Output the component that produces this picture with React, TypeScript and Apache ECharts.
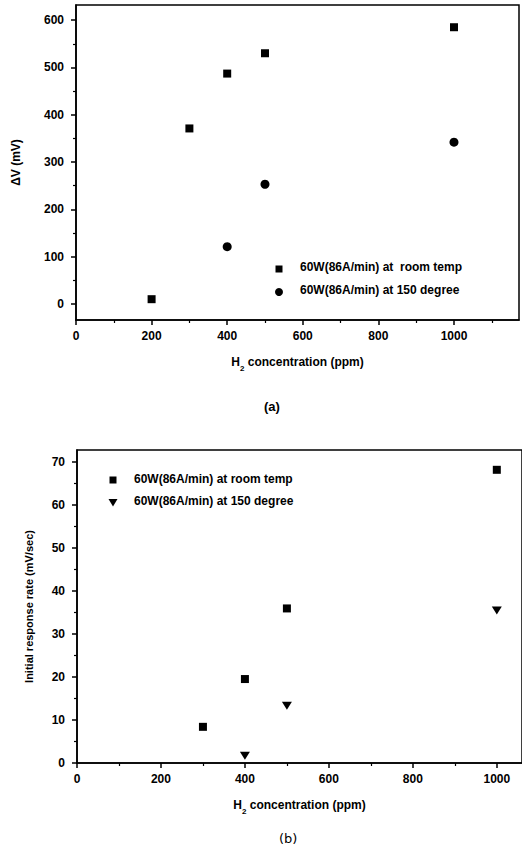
import React, { useEffect, useRef } from "react";
import * as echarts from "echarts";

// Panel (a): ΔV (mV) vs H2 concentration (ppm)
const roomTempConcA = [200, 300, 400, 500, 1000];
const roomTempDeltaV = [10, 371, 487, 530, 585];
const hotConcA = [400, 500, 1000];
const hotDeltaV = [121, 253, 342];

// Panel (b): initial response rate (mV/sec)
const roomTempConcB = [300, 400, 500, 1000];
const roomTempRate = [8.4, 19.5, 35.9, 68.1];
const hotConcB = [400, 500, 1000];
const hotRate = [1.7, 13.3, 35.4];

// Tick labels
const xMajorTicks = [0, 200, 400, 600, 800, 1000];
const xMinorTicksA = [100, 300, 500, 700, 900, 1100];
const xMinorTicksB = [100, 300, 500, 700, 900];
const yMajorTicksA = [0, 100, 200, 300, 400, 500, 600];
const yMinorTicksA = [50, 150, 250, 350, 450, 550];
const yMajorTicksB = [0, 10, 20, 30, 40, 50, 60, 70];
const yMinorTicksB = [5, 15, 25, 35, 45, 55, 65];

const legendA = ["60W(86A/min) at  room temp", "60W(86A/min) at 150 degree"];
const legendB = ["60W(86A/min) at room temp", "60W(86A/min) at 150 degree"];

const FONT = "'Liberation Sans', Arial, sans-serif";
const INK = "#000";

const nameRich = {
  b: { fontFamily: FONT, fontWeight: "bold", fontSize: 12, color: INK, lineHeight: 16, verticalAlign: "top" },
  s: { fontFamily: FONT, fontWeight: "bold", fontSize: 8, color: INK, lineHeight: 16, verticalAlign: "top", padding: [8, 0, 0, 0] },
};

const plain = (v: number) => String(v);

function mainX(gridIndex: number, min: number, max: number, name: string) {
  return {
    type: "value",
    gridIndex,
    min,
    max,
    position: "bottom",
    name,
    nameLocation: "middle",
    nameGap: 36,
    nameTextStyle: { rich: nameRich },
    axisLine: { show: true, onZero: false, lineStyle: { color: INK, width: 1.6 } },
    axisTick: { show: true, length: 5, customValues: xMajorTicks, lineStyle: { color: INK, width: 1.5 } },
    axisLabel: { show: true, customValues: xMajorTicks, formatter: plain, margin: 10, fontFamily: FONT, fontWeight: "bold", fontSize: 12, color: INK },
    splitLine: { show: false },
  };
}

function minorX(gridIndex: number, min: number, max: number, vals: number[]) {
  return {
    type: "value",
    gridIndex,
    min,
    max,
    position: "bottom",
    axisLine: { show: false, onZero: false },
    axisTick: { show: true, length: 3, customValues: vals, lineStyle: { color: INK, width: 1.2 } },
    axisLabel: { show: false },
    splitLine: { show: false },
  };
}

function mainY(gridIndex: number, min: number, max: number, ticks: number[], name: string, nameGap: number, nameSize: number) {
  return {
    type: "value",
    gridIndex,
    min,
    max,
    position: "left",
    name,
    nameLocation: "middle",
    nameGap,
    nameRotate: 90,
    nameTextStyle: { fontFamily: FONT, fontWeight: "bold", fontSize: nameSize, color: INK },
    axisLine: { show: true, onZero: false, lineStyle: { color: INK, width: 1.6 } },
    axisTick: { show: true, length: 5, customValues: ticks, lineStyle: { color: INK, width: 1.5 } },
    axisLabel: { show: true, customValues: ticks, formatter: plain, margin: 12, fontFamily: FONT, fontWeight: "bold", fontSize: 12, color: INK },
    splitLine: { show: false },
  };
}

function minorY(gridIndex: number, min: number, max: number, vals: number[]) {
  return {
    type: "value",
    gridIndex,
    min,
    max,
    position: "left",
    axisLine: { show: false, onZero: false },
    axisTick: { show: true, length: 3, customValues: vals, lineStyle: { color: INK, width: 1.2 } },
    axisLabel: { show: false },
    splitLine: { show: false },
  };
}

export default function App() {
  const ref = useRef<HTMLDivElement>(null);

  useEffect(() => {
    if (!ref.current) return;
    const chart = echarts.init(ref.current, null, { renderer: "svg" });

    const xName = "{b|H}{s|2}{b| concentration (ppm)}";

    const legendText = (x: number, y: number, text: string) => ({
      type: "text",
      left: x,
      top: y - 7,
      style: { text, fontFamily: FONT, fontWeight: "bold", fontSize: 12, fill: INK },
    });

    const markStyle = { color: INK, opacity: 1 };

    chart.setOption({
      animation: false,
      backgroundColor: "#fff",
      grid: [
        { left: 76, top: 5, width: 443, height: 315, show: true, borderColor: INK, borderWidth: 1.5, backgroundColor: "transparent" },
        { left: 77, top: 450, width: 449, height: 313, show: true, borderColor: INK, borderWidth: 1.5, backgroundColor: "transparent" },
      ],
      xAxis: [
        mainX(0, 0, 1172, xName),
        minorX(0, 0, 1172, xMinorTicksA),
        mainX(1, 0, 1060, xName),
        minorX(1, 0, 1060, xMinorTicksB),
      ],
      yAxis: [
        mainY(0, -34, 632, yMajorTicksA, "ΔV (mV)", 54, 12),
        minorY(0, -34, 632, yMinorTicksA),
        mainY(1, 0, 72.7, yMajorTicksB, "Initial response rate (mV/sec)", 43, 11),
        minorY(1, 0, 72.7, yMinorTicksB),
      ],
      series: [
        {
          type: "scatter",
          name: legendA[0],
          xAxisIndex: 0,
          yAxisIndex: 0,
          symbol: "rect",
          symbolSize: 8,
          itemStyle: markStyle,
          data: roomTempConcA.map((x, i) => [x, roomTempDeltaV[i]]),
        },
        {
          type: "scatter",
          name: legendA[1],
          xAxisIndex: 0,
          yAxisIndex: 0,
          symbol: "circle",
          symbolSize: 9,
          itemStyle: markStyle,
          data: hotConcA.map((x, i) => [x, hotDeltaV[i]]),
        },
        {
          type: "scatter",
          name: legendB[0],
          xAxisIndex: 2,
          yAxisIndex: 2,
          symbol: "rect",
          symbolSize: 8,
          itemStyle: markStyle,
          data: roomTempConcB.map((x, i) => [x, roomTempRate[i]]),
        },
        {
          type: "scatter",
          name: legendB[1] + " ",
          xAxisIndex: 2,
          yAxisIndex: 2,
          symbol: "triangle",
          symbolRotate: 180,
          symbolSize: [10, 8],
          itemStyle: markStyle,
          data: hotConcB.map((x, i) => [x, hotRate[i]]),
        },
      ],
      graphic: [
        { type: "rect", shape: { x: 275.5, y: 265.5, width: 7, height: 7 }, style: { fill: INK } },
        legendText(300, 268, legendA[0]),
        { type: "circle", shape: { cx: 279, cy: 292, r: 4 }, style: { fill: INK } },
        legendText(300, 291, legendA[1]),
        { type: "rect", shape: { x: 109.5, y: 476.5, width: 7, height: 7 }, style: { fill: INK } },
        legendText(134, 480, legendB[0]),
        { type: "polygon", shape: { points: [[108.5, 499], [117.5, 499], [113, 506.5]] }, style: { fill: INK } },
        legendText(134, 502, legendB[1]),
        {
          type: "text",
          left: 264,
          top: 400,
          style: { text: "(a)", fontFamily: FONT, fontWeight: "bold", fontSize: 13, fill: INK },
        },
        {
          type: "text",
          left: 279,
          top: 832,
          style: { text: "(b)", fontFamily: "'DejaVu Sans', sans-serif", fontSize: 13, fill: INK },
        },
      ],
    });

    return () => chart.dispose();
  }, []);

  return (
    <div
      ref={ref}
      style={{ position: "fixed", left: 0, top: 0, width: 522, height: 854, background: "#fff" }}
    />
  );
}
